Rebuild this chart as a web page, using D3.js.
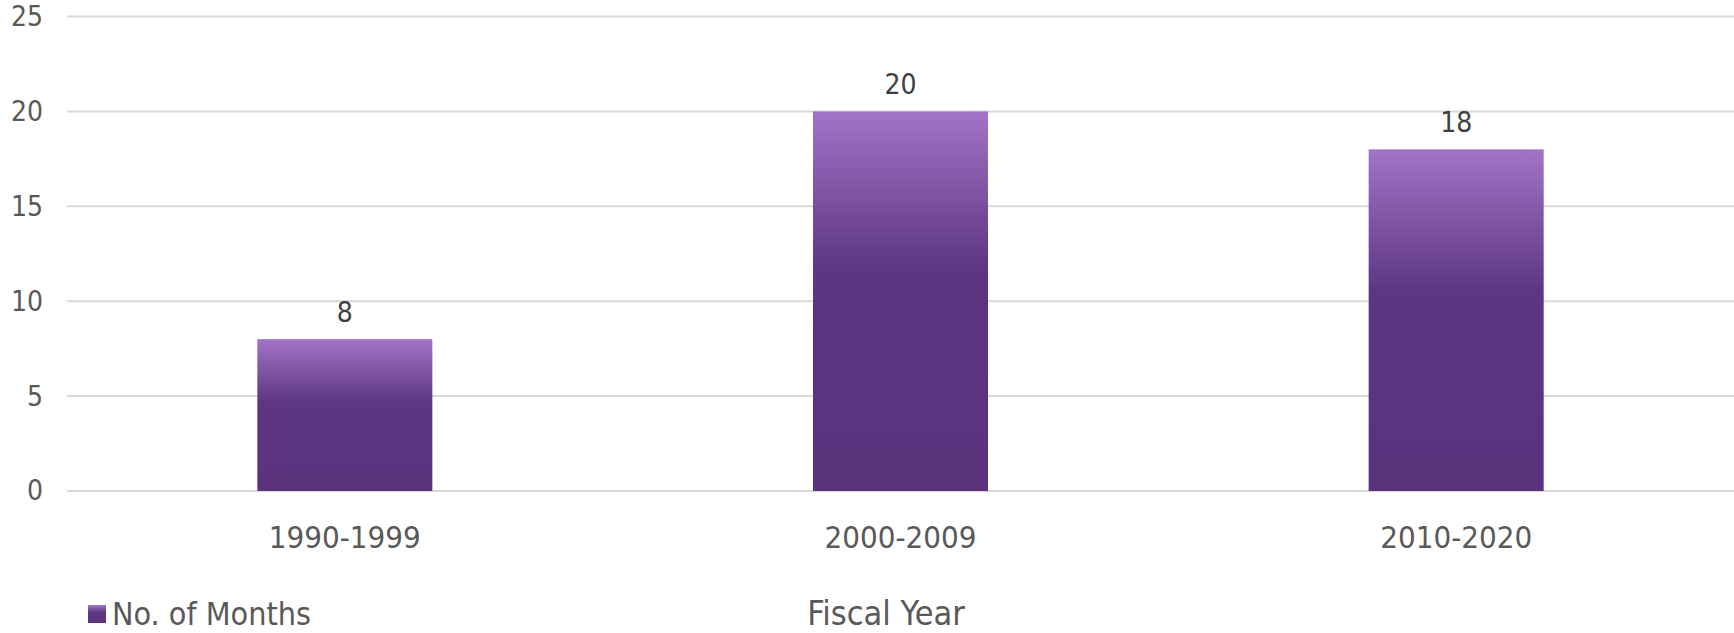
<!DOCTYPE html>
<html>
<head>
<meta charset="utf-8">
<script src="https://cdn.jsdelivr.net/npm/d3@7"></script>
<style>
  body { margin: 0; background: #fff; }
  svg { display: block; font-family: "DejaVu Sans Condensed", "DejaVu Sans", sans-serif; }
</style>
</head>
<body>
<div id="chart"></div>
<script>
// chart data
let categories = ["1990-1999", "2000-2009", "2010-2020"];
let months = [8, 20, 18];
let yTicks = [0, 5, 10, 15, 20, 25];
let seriesName = "No. of Months";
let axisTitle = "Fiscal Year";

var width = 1734, height = 633;
var margin = {top: 16.5, right: 0, bottom: 142, left: 67};

var svg = d3.select("#chart")
    .append("svg")
    .attr("width", width)
    .attr("height", height);

// gradient for bars
var defs = svg.append("defs");
var grad = defs.append("linearGradient")
    .attr("id", "barGrad")
    .attr("x1", 0).attr("y1", 0).attr("x2", 0).attr("y2", 1);
grad.append("stop").attr("offset", "0%").attr("stop-color", "#a274c7");
grad.append("stop").attr("offset", "42%").attr("stop-color", "#5d3580");
grad.append("stop").attr("offset", "100%").attr("stop-color", "#5b337d");

var x = d3.scaleBand()
    .domain(categories)
    .range([margin.left, width - margin.right])
    .paddingInner(0.685)
    .paddingOuter(0.3425);

var y = d3.scaleLinear()
    .domain([0, 25])
    .range([height - margin.bottom, margin.top]);

// gridlines
svg.append("g")
    .selectAll("line")
    .data(yTicks)
    .join("line")
    .attr("x1", margin.left)
    .attr("x2", width - margin.right)
    .attr("y1", d => y(d))
    .attr("y2", d => y(d))
    .attr("stroke", "#d9d9d9")
    .attr("stroke-width", 2);

// y axis labels
var yAxis = d3.axisLeft(y).tickValues(yTicks).tickSize(0).tickPadding(24);
svg.append("g")
    .attr("transform", `translate(${margin.left},0)`)
    .call(yAxis)
    .call(g => g.select(".domain").remove())
    .selectAll("text")
    .style("font-size", "28px")
    .style("font-family", "DejaVu Sans Condensed, DejaVu Sans, sans-serif")
    .attr("fill", "#595959");

// x axis labels
var xAxis = d3.axisBottom(x).tickSize(0).tickPadding(35);
svg.append("g")
    .attr("transform", `translate(0,${y(0)})`)
    .call(xAxis)
    .call(g => g.select(".domain").remove())
    .selectAll("text")
    .style("font-size", "31px")
    .style("font-family", "DejaVu Sans Condensed, DejaVu Sans, sans-serif")
    .attr("fill", "#595959");

// bars
svg.append("g")
    .selectAll("rect")
    .data(months)
    .join("rect")
    .attr("x", (d, i) => x(categories[i]))
    .attr("y", d => y(d))
    .attr("width", x.bandwidth())
    .attr("height", d => y(0) - y(d))
    .attr("fill", "url(#barGrad)");

// data labels
svg.append("g")
    .selectAll("text")
    .data(months)
    .join("text")
    .attr("x", (d, i) => x(categories[i]) + x.bandwidth() / 2)
    .attr("y", d => y(d) - 17)
    .attr("text-anchor", "middle")
    .style("font-size", "28px")
    .attr("fill", "#404040")
    .text(d => d);

// legend
var legend = svg.append("g").attr("transform", "translate(88,605)");
legend.append("rect")
    .attr("width", 18).attr("height", 18)
    .attr("fill", "url(#barGrad)");
legend.append("text")
    .attr("x", 24).attr("y", 20)
    .style("font-size", "32px")
    .attr("fill", "#595959")
    .text(seriesName);

// axis title
svg.append("text")
    .attr("x", 886)
    .attr("y", 625)
    .attr("text-anchor", "middle")
    .style("font-size", "34px")
    .attr("fill", "#595959")
    .text(axisTitle);
</script>
</body>
</html>
